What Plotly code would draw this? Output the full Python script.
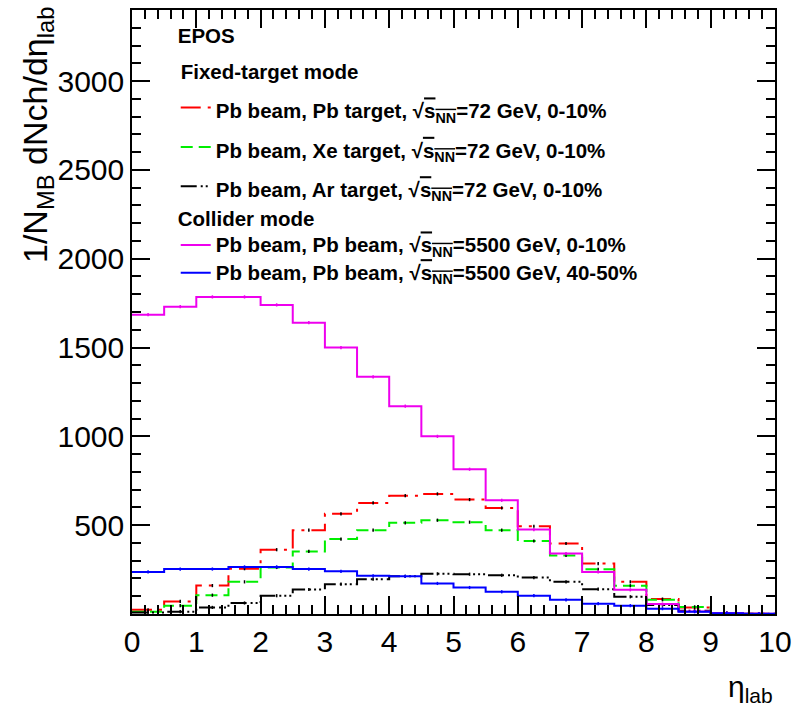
import plotly.graph_objects as go

# ---- data ----
bin_edges = [0.0, 0.5, 1.0, 1.5, 2.0, 2.5, 3.0, 3.5, 4.0, 4.5, 5.0,
             5.5, 6.0, 6.5, 7.0, 7.5, 8.0, 8.5, 9.0, 9.5, 10.0]
bin_centers = [0.25, 0.75, 1.25, 1.75, 2.25, 2.75, 3.25, 3.75, 4.25, 4.75,
               5.25, 5.75, 6.25, 6.75, 7.25, 7.75, 8.25, 8.75, 9.25, 9.75]

pbpb_72 = [24, 71, 160, 255, 362, 472, 564, 625, 666, 676,
           644, 597, 494, 397, 284, 181, 84, 37, 6, 1]
pbxe_72 = [13, 47, 106, 181, 262, 352, 422, 472, 513, 528,
           517, 472, 411, 330, 252, 159, 80, 40, 3, 0.5]
pbar_72 = [9, 13, 37, 62, 103, 138, 168, 196, 212, 226,
           224, 218, 205, 181, 140, 97, 50, 18, 4, 1]
pbpb_5500_c0 = [1685, 1730, 1785, 1785, 1740, 1640, 1500, 1335, 1170, 1000,
                815, 640, 475, 340, 237, 136, 56, 14, 5, 1]
pbpb_5500_c40 = [237, 253, 253, 265, 265, 253, 240, 215, 212, 172,
                 149, 125, 103, 80, 58, 47, 30, 13, 4, 1]

y_tickvals = [0, 500, 1000, 1500, 2000, 2500, 3000]
y_ticktext = ["", "500", "1000", "1500", "2000", "2500", "3000"]
x_tickvals = [0, 1, 2, 3, 4, 5, 6, 7, 8, 9, 10]

sq = '√<span style="text-decoration:overline">s<sub>NN</sub></span>'


def small(t):
    return '<span style="font-size:20.5px">' + t + '</span>'


series = [
    (small("Pb beam, Pb target, " + sq + "=72 GeV, 0-10%"), pbpb_72, "#ff0000",
     "20px,7px,3px,7px", "legend", "#000000"),
    (small("Pb beam, Xe target, " + sq + "=72 GeV, 0-10%"), pbxe_72, "#00ee00",
     "12px,6px", "legend", "#000000"),
    (small("Pb beam, Ar target, " + sq + "=72 GeV, 0-10%"), pbar_72, "#000000",
     "16px,4px,2px,3px,2px,3px,2px,4px", "legend", "#000000"),
    (small("Pb beam, Pb beam, " + sq + "=5500 GeV, 0-10%"), pbpb_5500_c0, "#ee00ee",
     "solid", "legend2", "#ee00ee"),
    (small("Pb beam, Pb beam, " + sq + "=5500 GeV, 40-50%"), pbpb_5500_c40, "#0000ff",
     "solid", "legend2", "#0000ff"),
]

lfont = dict(family="Liberation Sans", size=19, color="black", weight="bold")
bigfont = dict(family="Liberation Sans", size=28, color="black", weight="bold")

fig = go.Figure()
for name, vals, col, dash, leg, ecol in series:
    if leg == "legend":
        extra = dict(legendgroup="ft",
                     legendgrouptitle=dict(text=small("Fixed-target mode"), font=bigfont))
    else:
        extra = dict(legendgroup="col")
    fig.add_trace(go.Scatter(
        x=bin_edges, y=vals + [vals[-1]], mode="lines", name=name,
        line=dict(color=col, width=2, dash=dash, shape="hv"),
        legend=leg, hoverinfo="skip", **extra))
    fig.add_trace(go.Scatter(
        x=bin_centers, y=vals, mode="markers", showlegend=False,
        marker=dict(size=1, color=ecol),
        error_y=dict(type="constant", value=9, color=ecol, thickness=1.5, width=0),
        hoverinfo="skip"))

axis_common = dict(showline=True, linecolor="black", linewidth=1.5, mirror="ticks",
                   ticks="inside", tickcolor="black", tickwidth=1.5, ticklen=18,
                   showgrid=False, zeroline=False,
                   tickfont=dict(family="Liberation Sans", size=30, color="black"))

fig.update_xaxes(range=[0, 10], tickmode="array", tickvals=x_tickvals,
                 minor=dict(tickmode="linear", tick0=0, dtick=0.2, ticks="inside",
                            ticklen=9, tickcolor="black", tickwidth=1.5, showgrid=False),
                 **axis_common)
fig.update_yaxes(range=[0, 3400], tickmode="array", tickvals=y_tickvals,
                 ticktext=y_ticktext,
                 minor=dict(tickmode="linear", tick0=0, dtick=100, ticks="inside",
                            ticklen=9, tickcolor="black", tickwidth=1.5, showgrid=False),
                 **axis_common)

fig.update_layout(
    width=803, height=712,
    margin=dict(l=132, r=28, t=7, b=98),
    paper_bgcolor="white", plot_bgcolor="white",
    showlegend=True,
    legend=dict(x=0.068, y=1.005, xanchor="left", yanchor="top",
                bgcolor="rgba(0,0,0,0)", borderwidth=0,
                title=dict(text=small("EPOS"), side="top", font=bigfont),
                font=bigfont, tracegroupgap=0, itemwidth=30,
                traceorder="grouped"),
    legend2=dict(x=0.068, y=0.683, xanchor="left", yanchor="top",
                 bgcolor="rgba(0,0,0,0)", borderwidth=0,
                 title=dict(text=small("Collider mode"), side="top", font=lfont),
                 font=lfont, tracegroupgap=0, itemwidth=30),
    annotations=[
        dict(text="1/N<sub>MB</sub> dNch/dη<sub>lab</sub>", textangle=-90,
             xref="paper", yref="paper", x=-0.148, y=1.008,
             xanchor="center", yanchor="top", showarrow=False,
             font=dict(family="Liberation Sans", size=34, color="black")),
        dict(text="η<sub>lab</sub>", xref="paper", yref="paper",
             x=1.0, y=-0.09, xanchor="right", yanchor="top", showarrow=False,
             font=dict(family="Liberation Sans", size=30, color="black")),
    ],
)

fig.write_html("out.html")
